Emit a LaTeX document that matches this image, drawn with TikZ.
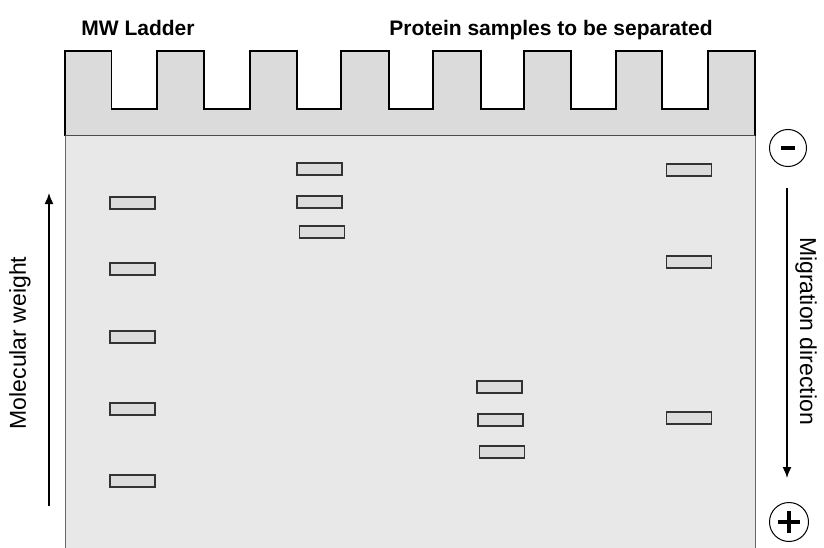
\documentclass[tikz,border=0pt]{standalone}
\usepackage{fontspec}
\setmainfont{Liberation Sans}
\usetikzlibrary{arrows.meta}
\begin{document}
\begin{tikzpicture}[x=1pt,y=-1pt,
  band/.style={draw=black!80,line width=1.3pt,fill=black!14,minimum width=45pt,minimum height=12pt,inner sep=0pt,outer sep=0pt},
  electrode/.style={circle,draw=black,line width=1pt,minimum size=37pt,inner sep=0pt},
  sidelabel/.style={font=\fontsize{23}{26}\selectfont},
  toplabel/.style={font=\fontsize{21}{24}\selectfont\bfseries,anchor=base},
  axisarrow/.style={-{Latex[length=11pt,width=9pt]},line width=1.5pt}]
\useasboundingbox (0,0) rectangle (824,548);
% gel
\path[fill=black!9] (65,136) rectangle (755,548);
\draw[black!60,line width=1pt] (65,548) -- (65,136) -- (755,136) -- (755,548);
% comb
\draw[fill=black!14,line width=1.2pt,line join=miter]
  (65,136) -- (65,51) -- (111.5,51) -- (111.5,109) -- (157,109) -- (157,51)
  -- (204,51) -- (204,109) -- (250,109) -- (250,51) -- (297,51) -- (297,109)
  -- (341,109) -- (341,51) -- (389,51) -- (389,109) -- (433,109) -- (433,51)
  -- (481,51) -- (481,109) -- (524,109) -- (524,51) -- (571,51) -- (571,109)
  -- (616,109) -- (616,51) -- (662,51) -- (662,109) -- (708,109) -- (708,51)
  -- (755,51) -- (755,136);
\draw[black!70,line width=1pt] (65,136) -- (755,136);
% labels
\node[toplabel] (ladder) at (138,36) {MW Ladder};
\node[toplabel] (samples) at (551,36) {Protein samples to be separated};
% ladder bands
\node[band] (l1) at (132.5,203) {};
\node[band] (l2) at (132.5,269) {};
\node[band] (l3) at (132.5,337) {};
\node[band] (l4) at (132.5,409) {};
\node[band] (l5) at (132.5,481) {};
% lane 3
\node[band] (a1) at (319.5,169) {};
\node[band] (a2) at (319.5,202) {};
\node[band] (a3) at (322,232) {};
% lane 5
\node[band] (b1) at (499.5,387) {};
\node[band] (b2) at (500.5,420) {};
\node[band] (b3) at (502,452) {};
% lane 8
\node[band] (c1) at (689,170) {};
\node[band] (c2) at (689,262) {};
\node[band] (c3) at (689,418) {};
% electrodes
\node[electrode] (minus) at (788,148) {};
\draw[line width=4.5pt] ([xshift=-7pt]minus.center) -- ([xshift=7pt]minus.center);
\node[electrode,minimum size=39pt] (plus) at (789,522) {};
\draw[line width=4pt] ([xshift=-11pt]plus.center) -- ([xshift=11pt]plus.center)
  ([yshift=-11pt]plus.center) -- ([yshift=11pt]plus.center);
% arrows
\coordinate (mtop) at (787,188);
\coordinate (mbot) at (787,478);
\draw[axisarrow] (mtop) -- (mbot);
\node[sidelabel,rotate=-90] (mig) at (806,331) {Migration direction};
\coordinate (wbot) at (49,506);
\coordinate (wtop) at (49,193);
\draw[axisarrow] (wbot) -- (wtop);
\node[sidelabel,rotate=90] (mw) at (20,343) {Molecular weight};
\end{tikzpicture}
\end{document}
